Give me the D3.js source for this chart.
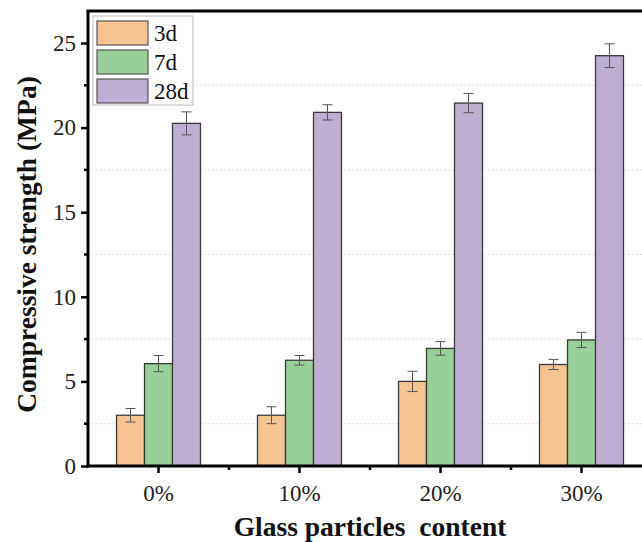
<!DOCTYPE html>
<html><head><meta charset="utf-8">
<script src="https://cdn.jsdelivr.net/npm/d3@7"></script>
<style>body{margin:0;background:#fff}svg{display:block}
text{font-family:"Liberation Serif","DejaVu Serif" !important}</style>
</head><body><svg id="c" width="642" height="542"></svg>
<script>
const categories = ["0%", "10%", "20%", "30%"];
const seriesNames = ["3d", "7d", "28d"];
const values3d = [3.0, 3.0, 5.0, 6.0];
const values7d = [6.05, 6.25, 6.95, 7.45];
const values28d = [20.25, 20.9, 21.45, 24.25];
const err3d = [0.4, 0.5, 0.6, 0.3];
const err7d = [0.48, 0.28, 0.4, 0.45];
const err28d = [0.68, 0.45, 0.57, 0.7];
const yTicks = [0, 5, 10, 15, 20, 25];
const yMinor = [2.5, 7.5, 12.5, 17.5, 22.5];
const colors = ["#F6C491", "#99CF98", "#BEAED3"];

const series = [values3d, values7d, values28d];
const errs = [err3d, err7d, err28d];
const svg = d3.select("#c");
const L = 88, T = 11, B = 466, step = 141;
const x = d3.scaleBand().domain(categories).range([L, L + step * categories.length]).paddingInner(0).paddingOuter(0);
const xs = d3.scaleBand().domain(seriesNames).range([0, 84]);
const y = d3.scaleLinear().domain([0, 25]).range([B, B - 25 * 16.92]);

// grid
svg.append("g").selectAll("line").data(yMinor).join("line")
  .attr("x1", L).attr("x2", 642).attr("y1", d => y(d)).attr("y2", d => y(d))
  .attr("stroke", "#d8d8d8").attr("stroke-width", 0.8).attr("stroke-dasharray", "2,2");

// bars
const g = svg.append("g");
series.forEach((vals, si) => {
  vals.forEach((v, ci) => {
    const cx = x(categories[ci]) + x.bandwidth() / 2 - 42;
    const bx = cx + xs(seriesNames[si]);
    g.append("rect").attr("x", bx).attr("y", y(v)).attr("width", xs.bandwidth()).attr("height", B - y(v))
      .attr("fill", colors[si]).attr("stroke", "#3a3a3a").attr("stroke-width", 1.3);
    const mx = bx + xs.bandwidth() / 2, e = errs[si][ci];
    const eg = g.append("g").attr("stroke", "#555").attr("stroke-width", 1);
    eg.append("line").attr("x1", mx).attr("x2", mx).attr("y1", y(v + e)).attr("y2", y(v - e));
    eg.append("line").attr("x1", mx - 5).attr("x2", mx + 5).attr("y1", y(v + e)).attr("y2", y(v + e));
    eg.append("line").attr("x1", mx - 5).attr("x2", mx + 5).attr("y1", y(v - e)).attr("y2", y(v - e));
  });
});

// axes
const yAxis = d3.axisLeft(y).tickValues(yTicks).tickSize(7).tickPadding(5);
const ya = svg.append("g").attr("transform", `translate(${L},0)`).call(yAxis);
ya.select(".domain").remove();
ya.selectAll(".tick line").attr("stroke", "#000").attr("stroke-width", 2.5);
ya.selectAll("text").attr("font-size", 23).attr("fill", "#222");
svg.append("g").selectAll("line").data(yMinor).join("line")
  .attr("x1", L - 4).attr("x2", L).attr("y1", d => y(d)).attr("y2", d => y(d)).attr("stroke", "#000").attr("stroke-width", 2.5);

const xAxis = d3.axisBottom(x).tickSize(7).tickPadding(12);
const xa = svg.append("g").attr("transform", `translate(0,${B})`).call(xAxis);
xa.select(".domain").remove();
xa.selectAll(".tick line").attr("stroke", "#000").attr("stroke-width", 2.5);
xa.selectAll("text").attr("font-size", 23).attr("fill", "#222");
svg.append("g").selectAll("line").data(categories).join("line")
  .attr("x1", d => x(d) + x.bandwidth()).attr("x2", d => x(d) + x.bandwidth())
  .attr("y1", B).attr("y2", B + 4).attr("stroke", "#000").attr("stroke-width", 2.5);

// spines
svg.append("line").attr("x1", L).attr("x2", L).attr("y1", T).attr("y2", B + 1.5).attr("stroke", "#000").attr("stroke-width", 3);
svg.append("line").attr("x1", L - 1.5).attr("x2", 642).attr("y1", B).attr("y2", B).attr("stroke", "#000").attr("stroke-width", 3);
svg.append("line").attr("x1", L - 1.5).attr("x2", 642).attr("y1", T).attr("y2", T).attr("stroke", "#000").attr("stroke-width", 3);

// labels
svg.append("text").attr("transform", `translate(36,${(T + B) / 2 + 6}) rotate(-90)`).attr("text-anchor", "middle")
  .attr("font-weight", "bold").attr("font-size", 27.5).attr("fill", "#111")
  .text("Compressive strength (MPa)");
svg.append("text").attr("x", 370).attr("y", 536).attr("text-anchor", "middle")
  .style("white-space", "pre")
  .attr("font-weight", "bold").attr("font-size", 27.5).attr("fill", "#111")
  .text("Glass particles  content");

// legend
const lg = svg.append("g").attr("transform", "translate(93,16)");
lg.append("rect").attr("width", 100).attr("height", 89).attr("fill", "#fff").attr("stroke", "#bbb").attr("stroke-width", 1);
seriesNames.forEach((n, i) => {
  lg.append("rect").attr("x", 4).attr("y", 5 + i * 29).attr("width", 51).attr("height", 24)
    .attr("fill", colors[i]).attr("stroke", "#555").attr("stroke-width", 1.2);
  lg.append("text").attr("x", 61).attr("y", 25 + i * 29).attr("font-size", 23).attr("fill", "#111").text(n);
});
</script></body></html>
